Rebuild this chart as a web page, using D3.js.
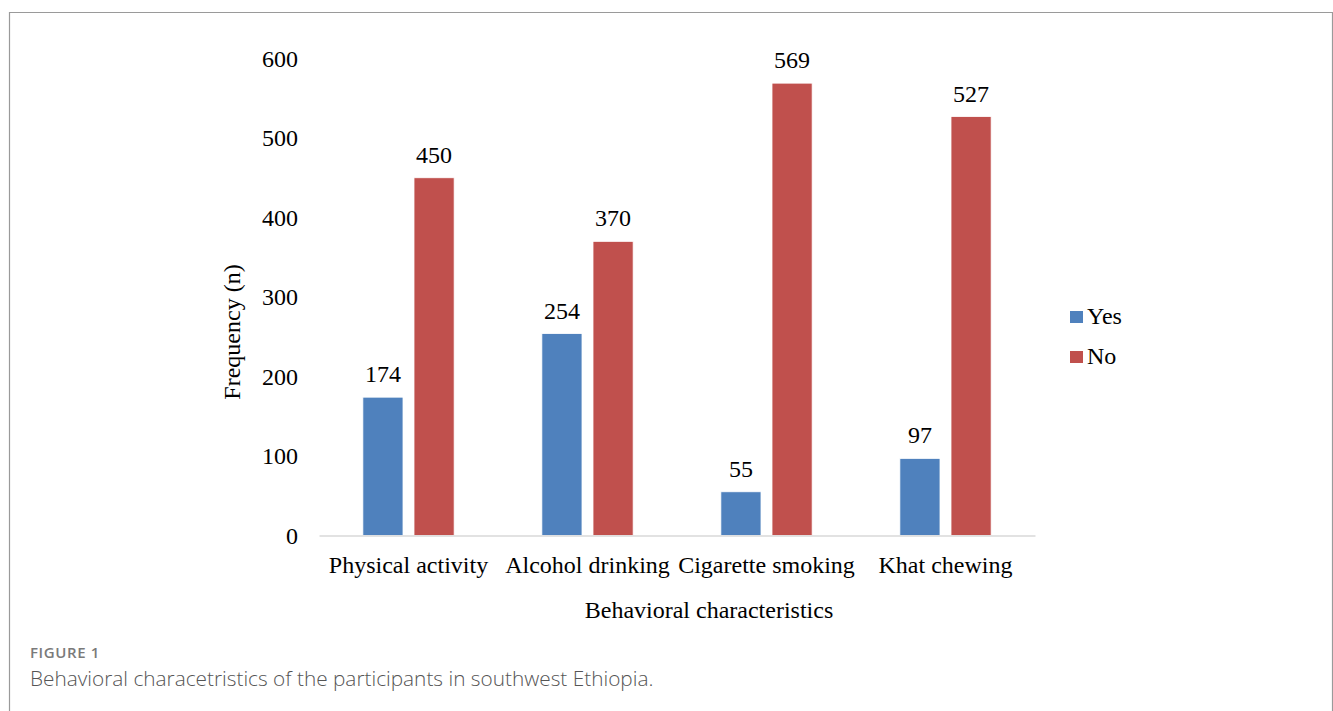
<!DOCTYPE html>
<html>
<head>
<meta charset="utf-8">
<script src="https://cdn.jsdelivr.net/npm/d3@7"></script>
<style>
  html, body { margin: 0; padding: 0; background: #fff; }
  svg { display: block; }
</style>
</head>
<body>
<svg id="chart" width="1333" height="711"></svg>
<script>
// Behavioral characteristics: counts of Yes / No answers per behaviour
const categories = ["Physical activity", "Alcohol drinking", "Cigarette smoking", "Khat chewing"];
const seriesNames = ["Yes", "No"];
const yesValues = [174, 254, 55, 97];
const noValues = [450, 370, 569, 527];
const yTicks = [0, 100, 200, 300, 400, 500, 600];
const seriesColors = ["#4F81BD", "#C0504D"];

const seriesValues = [yesValues, noValues];
const rows = categories.map((c, i) => ({
  category: c,
  values: seriesNames.map((s, j) => ({ series: s, value: seriesValues[j][i], color: seriesColors[j] }))
}));

const svg = d3.select("#chart");
const serif = "'Liberation Serif', 'Times New Roman', serif";

// figure frame
svg.append("path")
  .attr("d", "M9.5,711 V12.5 H1332.5 V711")
  .attr("fill", "none")
  .attr("stroke", "#9a9a9a")
  .attr("stroke-width", 1.2);

const plot = { left: 319, right: 1035, top: 58.5, bottom: 535.5 };

const x0 = d3.scaleBand().domain(categories).range([plot.left, plot.right]).padding(0);
const bw = x0.bandwidth();
const x1 = d3.scaleBand().domain(seriesNames).range([bw * 0.245, bw * 0.755]).paddingInner(0.215).paddingOuter(0);
const y = d3.scaleLinear().domain([0, 600]).range([plot.bottom, plot.top]);

// y axis tick labels (no axis line)
const yAxis = d3.axisLeft(y).tickValues(yTicks).tickSize(0).tickPadding(0).tickFormat(d3.format("d"));
const yg = svg.append("g").attr("transform", "translate(298,0)").call(yAxis);
yg.select(".domain").remove();
yg.selectAll("text")
  .attr("font-family", serif)
  .attr("font-size", 24)
  .attr("fill", "#000")
  .attr("dy", "0.33em");

// bars
const groups = svg.append("g").selectAll("g")
  .data(rows)
  .join("g")
  .attr("transform", d => `translate(${x0(d.category)},0)`);

groups.selectAll("rect")
  .data(d => d.values)
  .join("rect")
  .attr("x", d => x1(d.series))
  .attr("width", x1.bandwidth())
  .attr("y", d => y(d.value))
  .attr("height", d => y(0) - y(d.value))
  .attr("fill", d => d.color)
  .attr("stroke", "#fff")
  .attr("stroke-width", 0.8);

// value labels
groups.selectAll("text.value")
  .data(d => d.values)
  .join("text")
  .attr("class", "value")
  .attr("x", d => x1(d.series) + x1.bandwidth() / 2)
  .attr("y", d => y(d.value) - 15)
  .attr("text-anchor", "middle")
  .attr("font-family", serif)
  .attr("font-size", 24)
  .attr("fill", "#000")
  .text(d => d.value);

// category axis baseline and labels
const xAxis = d3.axisBottom(x0).tickSize(0).tickPadding(0);
const xg = svg.append("g").attr("transform", `translate(0,${plot.bottom})`).call(xAxis);
xg.select(".domain").attr("stroke", "#d9d9d9").attr("stroke-width", 1.5);
xg.selectAll("text")
  .attr("font-family", serif)
  .attr("font-size", 24)
  .attr("fill", "#000")
  .attr("dy", null)
  .attr("y", 37);

// axis titles
svg.append("text")
  .attr("x", 709)
  .attr("y", 618)
  .attr("text-anchor", "middle")
  .attr("font-family", serif)
  .attr("font-size", 24)
  .text("Behavioral characteristics");

svg.append("text")
  .attr("transform", "translate(240,332) rotate(-90)")
  .attr("text-anchor", "middle")
  .attr("font-family", serif)
  .attr("font-size", 24)
  .text("Frequency (n)");

// legend
const legend = svg.append("g").selectAll("g")
  .data(seriesNames)
  .join("g")
  .attr("transform", (d, i) => `translate(1070,${311 + i * 40})`);
legend.append("rect").attr("width", 13).attr("height", 12).attr("fill", (d, i) => seriesColors[i]);
legend.append("text")
  .attr("x", 17)
  .attr("y", 13)
  .attr("font-family", serif)
  .attr("font-size", 24)
  .text(d => d);

// figure caption
svg.append("text")
  .attr("x", 30)
  .attr("y", 658)
  .attr("font-family", "'Open Sans', sans-serif")
  .attr("font-size", 15)
  .attr("font-weight", 600)
  .attr("letter-spacing", 0.6)
  .attr("fill", "#7a7a7a")
  .text("FIGURE 1");

svg.append("text")
  .attr("x", 30)
  .attr("y", 686)
  .attr("font-family", "'Open Sans', sans-serif")
  .attr("font-size", 20.8)
  .attr("font-weight", 300)
  .attr("fill", "#555")
  .text("Behavioral characetristics of the participants in southwest Ethiopia.");
</script>
</body>
</html>
